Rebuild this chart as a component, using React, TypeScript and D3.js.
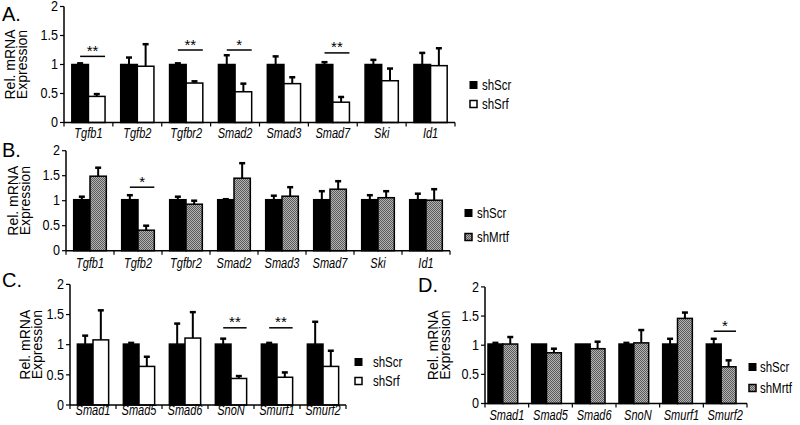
import React from "react";
import * as d3 from "d3";

const Y_TICKS = [0, 0.5, 1, 1.5, 2];
const Y_TICK_LABELS = ["0", "0.5", "1", "1.5", "2"];

const A_CATS = ["Tgfb1", "Tgfb2", "Tgfbr2", "Smad2", "Smad3", "Smad7", "Ski", "Id1"];
const A_SCR = [1, 1, 1, 1, 1, 1, 1, 1];
const A_SCR_ERR = [0.02, 0.12, 0.02, 0.16, 0.14, 0.04, 0.08, 0.2];
const A_SRF = [0.45, 0.97, 0.68, 0.53, 0.67, 0.35, 0.72, 0.98];
const A_SRF_ERR = [0.04, 0.38, 0.03, 0.14, 0.11, 0.09, 0.21, 0.3];
const A_SIG = [
  { i: 0, label: "**", y: 1.14 },
  { i: 2, label: "**", y: 1.25 },
  { i: 3, label: "*", y: 1.25 },
  { i: 5, label: "**", y: 1.2 },
];

const B_CATS = ["Tgfb1", "Tgfb2", "Tgfbr2", "Smad2", "Smad3", "Smad7", "Ski", "Id1"];
const B_SCR = [1.02, 1.02, 1.02, 1.02, 1.02, 1.02, 1.02, 1.02];
const B_SCR_ERR = [0.06, 0.09, 0.06, 0.01, 0.08, 0.17, 0.09, 0.12];
const B_MRTF = [1.49, 0.41, 0.93, 1.45, 1.09, 1.23, 1.06, 1.01];
const B_MRTF_ERR = [0.17, 0.09, 0.07, 0.3, 0.18, 0.16, 0.13, 0.22];
const B_SIG = [{ i: 1, label: "*", y: 1.27 }];

const C_CATS = ["Smad1", "Smad5", "Smad6", "SnoN", "Smurf1", "Smurf2"];
const C_SCR = [1.01, 1.01, 1.01, 1.01, 1.01, 1.01];
const C_SCR_ERR = [0.14, 0.02, 0.34, 0.09, 0.02, 0.37];
const C_SRF = [1.08, 0.64, 1.11, 0.44, 0.46, 0.64];
const C_SRF_ERR = [0.49, 0.16, 0.43, 0.04, 0.08, 0.26];
const C_SIG = [
  { i: 3, label: "**", y: 1.28 },
  { i: 4, label: "**", y: 1.28 },
];

const D_CATS = ["Smad1", "Smad5", "Smad6", "SnoN", "Smurf1", "Smurf2"];
const D_SCR = [1.02, 1.02, 1.02, 1.02, 1.02, 1.02];
const D_SCR_ERR = [0.02, 0.0, 0.0, 0.02, 0.09, 0.09];
const D_MRTF = [1.02, 0.87, 0.94, 1.04, 1.46, 0.63];
const D_MRTF_ERR = [0.12, 0.07, 0.12, 0.22, 0.1, 0.11];
const D_SIG = [{ i: 5, label: "*", y: 1.24 }];

const LEGEND_CTRL = "shScr";
const LEGEND_SRF = "shSrf";
const LEGEND_MRTF = "shMrtf";
const Y_TITLE = ["Rel. mRNA", "Expression"];

const FONT = "'Liberation Sans', Arial, sans-serif";

function T(props: {
  x: number;
  y: number;
  size: number;
  sq: number;
  anchor?: string;
  base?: string;
  italic?: boolean;
  children: React.ReactNode;
}) {
  return (
    <text
      transform={`translate(${props.x},${props.y}) scale(${props.sq},1)`}
      textAnchor={props.anchor || "start"}
      dominantBaseline={props.base || "auto"}
      fontSize={props.size}
      fontStyle={props.italic ? "italic" : "normal"}
      fill="#000"
    >
      {props.children}
    </text>
  );
}

type PanelProps = {
  letter: string;
  letterX: number;
  letterY: number;
  titleX: number;
  cats: string[];
  ctrl: number[];
  ctrlErr: number[];
  treat: number[];
  treatErr: number[];
  treatFill: string;
  treatName: string;
  sig: { i: number; label: string; y: number }[];
  axisX: number;
  axisEnd: number;
  y0: number;
  yUnit: number;
  barShift: number;
  labelY: number;
  legBoxX: number;
  legTextX: number;
  legY: number[];
};

function Panel(p: PanelProps) {
  const x = d3.scaleBand<string>().domain(p.cats).range([p.axisX, p.axisEnd]);
  const y = d3.scaleLinear().domain([0, 2]).range([p.y0, p.y0 - 2 * p.yUnit]);
  const bw = x.bandwidth() * 0.34;
  const boundaries = d3.range(p.cats.length + 1).map((k) => p.axisX + k * x.bandwidth());
  const bars: React.ReactNode[] = [];
  p.cats.forEach((c, k) => {
    const cx = (x(c) as number) + x.bandwidth() / 2 + p.barShift;
    const series = [
      { v: p.ctrl[k], e: p.ctrlErr[k], x0: cx - bw, fill: "#000" },
      { v: p.treat[k], e: p.treatErr[k], x0: cx, fill: p.treatFill },
    ];
    series.forEach((s, j) => {
      const mid = s.x0 + bw / 2;
      bars.push(
        <g key={c + j}>
          {s.e > 0.005 && (
            <>
              <line x1={mid} x2={mid} y1={y(s.v)} y2={y(s.v + s.e)} stroke="#000" strokeWidth={2} />
              <line x1={mid - 3} x2={mid + 3} y1={y(s.v + s.e)} y2={y(s.v + s.e)} stroke="#000" strokeWidth={2.5} />
            </>
          )}
          <rect x={s.x0} y={y(s.v)} width={bw} height={y(0) - y(s.v)} fill={s.fill} stroke="#000" strokeWidth={1.5} />
        </g>
      );
    });
  });
  const midY = (y(0) + y(2)) / 2;
  return (
    <g fontFamily={FONT}>
      <text x={p.letterX} y={p.letterY} fontSize={20} fill="#000">{p.letter}</text>
      {Y_TITLE.map((t, k) => (
        <text
          key={t}
          transform={`translate(${p.titleX + k * 12},${midY}) rotate(-90)`}
          textAnchor="middle"
          dominantBaseline="central"
          fontSize={14}
          fill="#000"
        >
          {t}
        </text>
      ))}
      {Y_TICKS.map((t, k) => (
        <g key={t}>
          <line x1={p.axisX - 4} x2={p.axisX} y1={y(t)} y2={y(t)} stroke="#000" strokeWidth={1.2} />
          <T x={p.axisX - 6} y={y(t)} anchor="end" base="central" size={14} sq={0.9}>
            {Y_TICK_LABELS[k]}
          </T>
        </g>
      ))}
      {bars}
      <line x1={p.axisX} x2={p.axisX} y1={y(0)} y2={y(2)} stroke="#000" strokeWidth={1.5} />
      <line x1={p.axisX} x2={p.axisEnd} y1={y(0)} y2={y(0)} stroke="#000" strokeWidth={1.5} />
      {boundaries.map((b, k) => (
        <line key={k} x1={b} x2={b} y1={y(0)} y2={y(0) + 4} stroke="#000" strokeWidth={1.2} />
      ))}
      {p.cats.map((c) => (
        <T key={c} x={(x(c) as number) + x.bandwidth() / 2} y={p.labelY} anchor="middle" size={14.5} sq={0.76} italic>
          {c}
        </T>
      ))}
      {p.sig.map((s) => {
        const cx = (x(p.cats[s.i]) as number) + x.bandwidth() / 2 + p.barShift;
        const x1 = cx - bw * 0.5;
        const x2 = cx + bw;
        return (
          <g key={s.i}>
            <line x1={x1} x2={x2} y1={y(s.y)} y2={y(s.y)} stroke="#000" strokeWidth={1.5} />
            <text x={(x1 + x2) / 2} y={y(s.y) - 0.5} textAnchor="middle" fontSize={15} fill="#000">
              {s.label}
            </text>
          </g>
        );
      })}
      <rect x={p.legBoxX} y={p.legY[0] - 3.5} width={7} height={7} fill="#000" stroke="#000" strokeWidth={1} />
      <T x={p.legTextX} y={p.legY[0]} base="central" size={14} sq={0.82}>{LEGEND_CTRL}</T>
      <rect x={p.legBoxX} y={p.legY[1] - 3.5} width={7} height={7} fill={p.treatFill} stroke="#000" strokeWidth={1.5} />
      <T x={p.legTextX} y={p.legY[1]} base="central" size={14} sq={0.82}>{p.treatName}</T>
    </g>
  );
}

export default function App() {
  return (
    <svg width={800} height={425} style={{ position: "absolute", left: 0, top: 0, background: "#fff" }}>
      <defs>
        <pattern id="grey" width={2} height={2} patternUnits="userSpaceOnUse">
          <rect width={2} height={2} fill="#b4b4b4" />
          <rect width={1} height={1} fill="#5a5a5a" />
          <rect x={1} y={1} width={1} height={1} fill="#5a5a5a" />
        </pattern>
      </defs>
      <rect width={800} height={425} fill="#fff" />
      <Panel
        letter="A." letterX={2} letterY={21} titleX={10}
        cats={A_CATS} ctrl={A_SCR} ctrlErr={A_SCR_ERR} treat={A_SRF} treatErr={A_SRF_ERR}
        treatFill="#fff" treatName={LEGEND_SRF} sig={A_SIG}
        axisX={64} axisEnd={455} y0={122.5} yUnit={58} barShift={0} labelY={138}
        legBoxX={470} legTextX={482} legY={[85, 104]}
      />
      <Panel
        letter="B." letterX={2} letterY={157} titleX={13}
        cats={B_CATS} ctrl={B_SCR} ctrlErr={B_SCR_ERR} treat={B_MRTF} treatErr={B_MRTF_ERR}
        treatFill="url(#grey)" treatName={LEGEND_MRTF} sig={B_SIG}
        axisX={66} axisEnd={450} y0={250.7} yUnit={50} barShift={0} labelY={268}
        legBoxX={465} legTextX={477} legY={[213, 237]}
      />
      <Panel
        letter="C." letterX={2} letterY={287} titleX={25}
        cats={C_CATS} ctrl={C_SCR} ctrlErr={C_SCR_ERR} treat={C_SRF} treatErr={C_SRF_ERR}
        treatFill="#fff" treatName={LEGEND_SRF} sig={C_SIG}
        axisX={70} axisEnd={346} y0={405} yUnit={60.3} barShift={0} labelY={415}
        legBoxX={355} legTextX={373} legY={[362, 381]}
      />
      <Panel
        letter="D." letterX={418} letterY={292} titleX={433}
        cats={D_CATS} ctrl={D_SCR} ctrlErr={D_SCR_ERR} treat={D_MRTF} treatErr={D_MRTF_ERR}
        treatFill="url(#grey)" treatName={LEGEND_MRTF} sig={D_SIG}
        axisX={485} axisEnd={747} y0={403.5} yUnit={58.3} barShift={-4} labelY={420}
        legBoxX={749} legTextX={760} legY={[367, 388]}
      />
    </svg>
  );
}
